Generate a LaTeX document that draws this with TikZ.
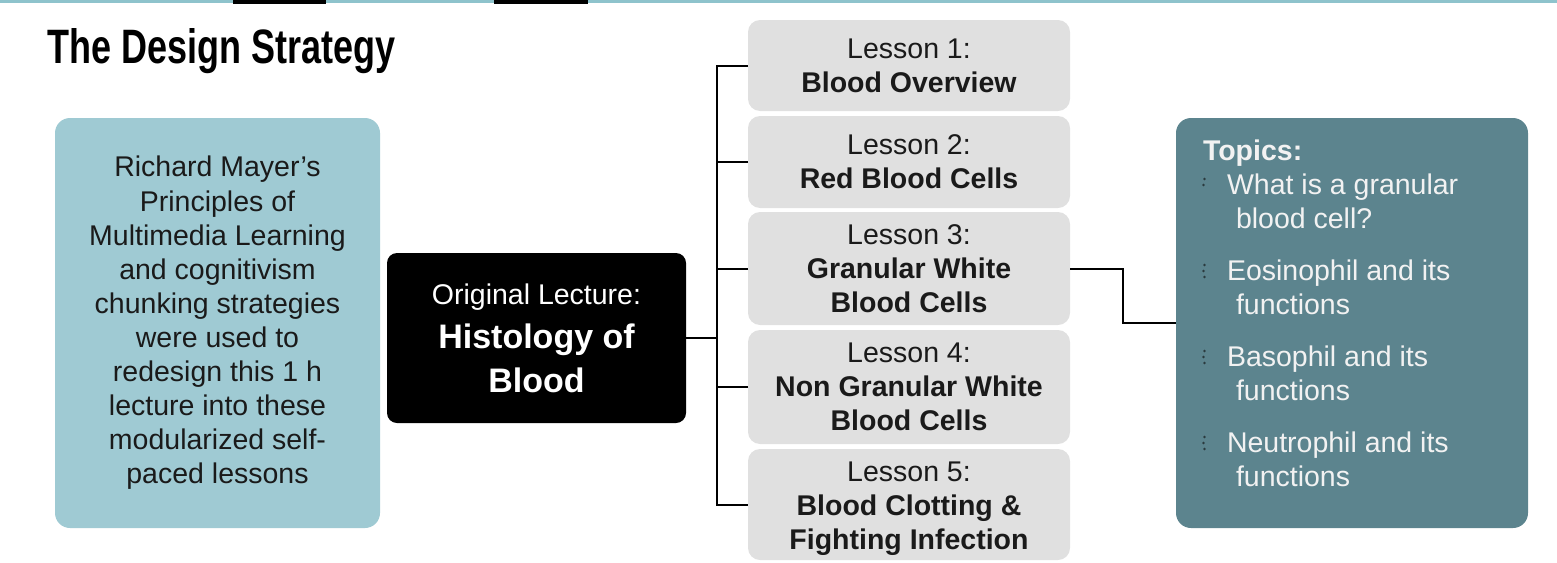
\documentclass[tikz,border=0pt]{standalone}
\usepackage{fontspec}
\usepackage{graphicx}
\setmainfont{Liberation Sans}
\definecolor{topbar}{HTML}{8EC3CC}
\definecolor{leftfill}{HTML}{9FCAD3}
\definecolor{lessonfill}{HTML}{E0E0E0}
\definecolor{topicsfill}{HTML}{5C848E}
\definecolor{textdark}{HTML}{1A1A1A}
\definecolor{topictext}{HTML}{F2F2F2}
\definecolor{bulletdot}{HTML}{2A3A3E}
\begin{document}
\begin{tikzpicture}[x=1pt,y=-1pt,
  basetext/.style={inner sep=0pt, outer sep=0pt, font=\fontsize{28.5}{34}\selectfont, align=center},
  leftbox/.style={basetext, fill=leftfill, rounded corners=15pt, minimum width=325pt, minimum height=410pt, text=textdark, font=\fontsize{28.5}{34.1}\selectfont},
  lecturebox/.style={basetext, fill=black, rounded corners=10pt, minimum width=299pt, minimum height=170pt, text=white, font=\fontsize{28.5}{44}\selectfont},
  lessonbox/.style={basetext, fill=lessonfill, rounded corners=12pt, minimum width=322pt, text=textdark},
  topicsbox/.style={fill=topicsfill, rounded corners=15pt, minimum width=352pt, minimum height=410pt, inner sep=0pt, outer sep=0pt},
  topictextstyle/.style={inner sep=0pt, outer sep=0pt, align=left, text=topictext, font=\fontsize{28.5}{34}\selectfont},
  conn/.style={line width=2pt, black},
  dot/.style={fill=bulletdot}]
\useasboundingbox (0,0) rectangle (1557,562);
% top bar
\fill[topbar] (0,0) rectangle (1557,3);
\fill[black] (233,0) rectangle (326,3.5);
\fill[black] (494,0) rectangle (588,3.5);
% title
\node[anchor=base west, inner sep=0pt, text=black] (title) at (47,63)
  {\resizebox{348pt}{35pt}{\bfseries The Design Strategy}};
% left box
\node[leftbox] (mayer) at (217.5,323) {Richard Mayer’s\\Principles of\\Multimedia Learning\\and cognitivism\\chunking strategies\\were used to\\redesign this 1 h\\lecture into these\\modularized self-\\paced lessons};
% lecture box
\node[lecturebox] (lecture) at (536.5,338) {Original Lecture:\\{\fontsize{34}{44}\selectfont\bfseries Histology of}\\{\fontsize{34}{44}\selectfont\bfseries Blood}};
% lessons
\node[lessonbox, minimum height=91pt] (l1) at (909,65.5) {Lesson 1:\\\textbf{Blood Overview}};
\node[lessonbox, minimum height=92pt] (l2) at (909,162) {Lesson 2:\\\textbf{Red Blood Cells}};
\node[lessonbox, minimum height=113pt] (l3) at (909,268.5) {Lesson 3:\\\textbf{Granular White}\\\textbf{Blood Cells}};
\node[lessonbox, minimum height=114pt] (l4) at (909,387) {Lesson 4:\\\textbf{Non Granular White}\\\textbf{Blood Cells}};
\node[lessonbox, minimum height=111pt] (l5) at (909,504.5) {\rule{0pt}{29pt}Lesson 5:\\\textbf{Blood Clotting \&}\\\textbf{Fighting Infection}};
% topics
\node[topicsbox] (topics) at (1352,323) {};
\node[topictextstyle, anchor=north west] (topiclist) at (1203,139.6)
  {\textbf{Topics:}\\
   \hspace*{24pt}What is a granular\\
   \hspace*{33pt}blood cell?\\[18pt]
   \hspace*{24pt}Eosinophil and its\\
   \hspace*{33pt}functions\\[18pt]
   \hspace*{24pt}Basophil and its\\
   \hspace*{33pt}functions\\[18pt]
   \hspace*{24pt}Neutrophil and its\\
   \hspace*{33pt}functions};
% bullets
\foreach \b/\n in {194/2,280/3,366/3,452/3}{
  \fill[dot] (1204.5,\b-15) circle (1.3);
  \fill[dot] (1203.5,\b-9) circle (1.3);
  \ifnum\n=3 \fill[dot] (1204.5,\b-3) circle (1.3);\fi
}
% connectors
\coordinate (spine) at (717,0);
\coordinate (elbow) at (1123,0);
\draw[conn] (l1.west) -- (l1.west -| spine) -- (l5.west -| spine) -- (l5.west);
\draw[conn] (l2.west) -- (l2.west -| spine);
\draw[conn] (l3.west) -- (l3.west -| spine);
\draw[conn] (l4.west) -- (l4.west -| spine);
\draw[conn] (lecture.east) -- (lecture.east -| spine);
\draw[conn] (l3.east) -- (l3.east -| elbow) -- (topics.west -| elbow) -- (topics.west);
\end{tikzpicture}
\end{document}
